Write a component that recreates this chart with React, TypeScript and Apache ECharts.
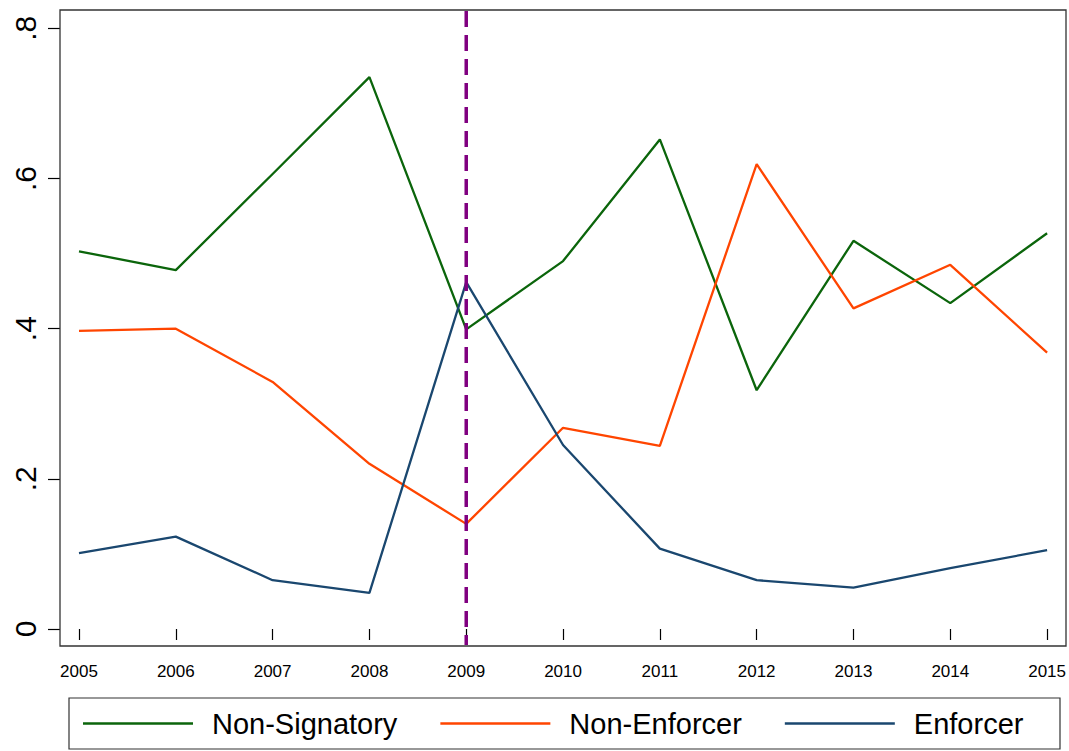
import React, { useEffect, useRef } from "react";
import * as echarts from "echarts";

const years = [2005, 2006, 2007, 2008, 2009, 2010, 2011, 2012, 2013, 2014, 2015];
const nonSignatory = [0.503, 0.478, 0.606, 0.735, 0.399, 0.49, 0.652, 0.318, 0.517, 0.434, 0.527];
const nonEnforcer = [0.397, 0.4, 0.329, 0.22, 0.14, 0.268, 0.244, 0.619, 0.427, 0.485, 0.368];
const enforcer = [0.101, 0.123, 0.065, 0.048, 0.462, 0.245, 0.107, 0.065, 0.055, 0.081, 0.105];
const seriesNames = ["Non-Signatory", "Non-Enforcer", "Enforcer"];
const seriesColors = ["#0b650b", "#ff4500", "#1a476f"];
const eventYear = 2009;

const FONT = "'Liberation Sans', Arial, Helvetica, sans-serif";

export default function App() {
  const ref = useRef<HTMLDivElement>(null);
  useEffect(() => {
    if (!ref.current) return;
    const chart = echarts.init(ref.current, undefined, { renderer: "svg" });
    const allData = [nonSignatory, nonEnforcer, enforcer];
    const frame = { type: "rect", id: "frame", shape: { x: 60, y: 10, width: 1006, height: 636 }, style: { fill: "none", stroke: "#333", lineWidth: 1.3 }, z: 10 };
    const legendBox = { type: "rect", id: "legendBox", shape: { x: 69, y: 698, width: 991, height: 51 }, style: { fill: "none", stroke: "#333", lineWidth: 1.2 }, z: 10 };
    chart.setOption({
      animation: false,
      backgroundColor: "#fff",
      grid: { left: 79, right: 21, top: 28.3, bottom: 122, containLabel: false },
      xAxis: {
        type: "value",
        min: 2005,
        max: 2015,
        interval: 1,
        offset: 17,
        axisLine: { show: false },
        axisTick: { show: true, length: 11, lineStyle: { color: "#000", width: 1.2 } },
        axisLabel: { color: "#000", fontSize: 17, fontFamily: FONT, margin: 17, formatter: (v: number) => String(v) },
        splitLine: { show: false },
      },
      yAxis: {
        type: "value",
        min: 0,
        max: 0.8,
        interval: 0.2,
        offset: 19,
        axisLine: { show: false },
        axisTick: { show: true, length: 12, lineStyle: { color: "#000", width: 1.2 } },
        axisLabel: {
          color: "#000",
          fontSize: 30,
          fontFamily: FONT,
          rotate: 90,
          margin: 20,
          formatter: (v: number) => (v === 0 ? "0" : "." + String(Math.round(v * 10))),
        },
        splitLine: { show: false },
      },
      legend: {
        left: 83,
        top: 709,
        padding: 0,
        icon: "rect",
        itemWidth: 110,
        itemHeight: 2.5,
        itemGap: 43,
        textStyle: { fontSize: 29, fontFamily: FONT, color: "#000", padding: [0, 0, 0, 14] },
        data: seriesNames,
      },
      series: seriesNames.map((name, i) => ({
        name,
        type: "line",
        data: years.map((y, j) => [y, allData[i][j]]),
        showSymbol: false,
        symbol: "none",
        lineStyle: { color: seriesColors[i], width: 2.3 },
        itemStyle: { color: seriesColors[i] },
        z: 3,
      })),
      graphic: [frame, legendBox],
    });
    const px = chart.convertToPixel({ xAxisIndex: 0 }, eventYear) as number;
    chart.setOption({
      graphic: [
        frame,
        legendBox,
        {
          type: "line",
          id: "eventLine",
          shape: { x1: px, y1: 11, x2: px, y2: 645 },
          style: { stroke: "#800080", lineWidth: 3.5, lineDash: [16, 8] },
          z: 5,
        },
      ],
    });
    return () => chart.dispose();
  }, []);
  return <div ref={ref} style={{ position: "fixed", left: 0, top: 0, width: 1069, height: 751 }} />;
}
